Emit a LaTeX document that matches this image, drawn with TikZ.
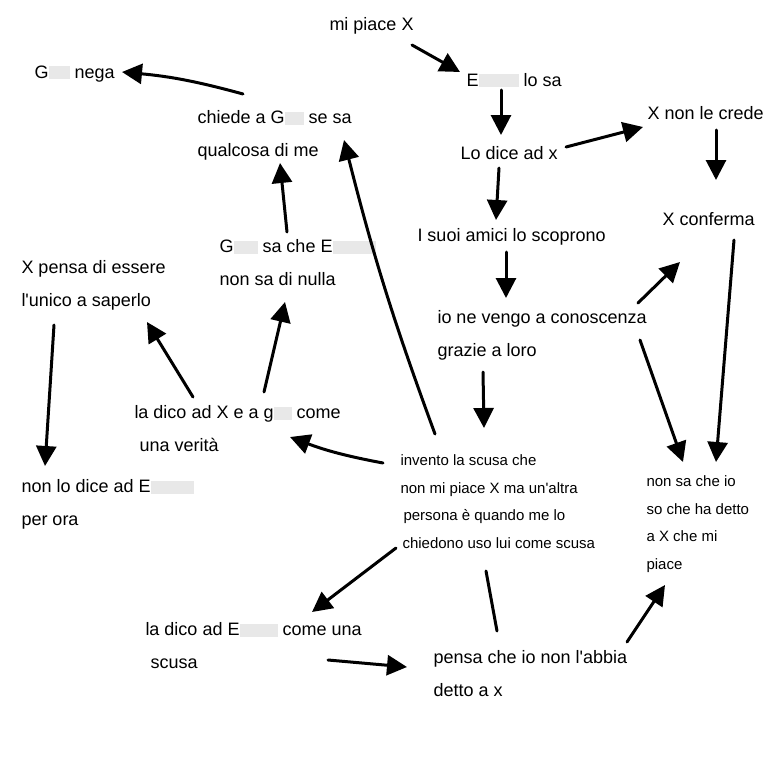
\documentclass[tikz,border=0pt]{standalone}
\usepackage{xcolor}
\usepackage{fontspec}
\setmainfont{Liberation Sans}
\usepackage{tikz}
\usetikzlibrary{arrows.meta, positioning}
\newcommand{\hid}[1]{\textcolor{black!9}{\rule[-1pt]{#1pt}{13pt}}}

\begin{document}
\begin{tikzpicture}[x=1pt, y=-1pt,
				>={Triangle[length=20pt, width=20pt]},
				line width=3pt,
				line cap=round,
				txt/.style={anchor=base west, inner sep=0pt, align=left, font=\fontsize{18}{32.5}\selectfont},
				small/.style={anchor=base west, inner sep=0pt, align=left, font=\fontsize{15}{27.5}\selectfont}]
				\useasboundingbox[fill=white] (0,0) rectangle (768,768);
				% base = last line
				\node at (328,31) (piace) [txt] {mi piace X};
				\node at (465,86) (elosa) [txt] {E\hid{40}\ lo sa};
				\node at (459,159) (dice) [txt] {Lo dice ad x};
				\node at (646,119) (crede) [txt] {X non le crede};
				\node at (661,225) (conferma) [txt] {X conferma};
				\node at (416,241) (amici) [txt] {I suoi amici lo scoprono};
				\node at (436,356) (vengo) [txt] {io ne vengo a conoscenza\\grazie a loro};
				\node at (33,78) (nega) [txt] {G\hid{21}\ nega};
				\node at (196,156) (chiede) [txt] {chiede a G\hid{19}\ se sa\\qualcosa di me};
				\node at (218,285) (gsa) [txt] {G\hid{24}\ sa che E\hid{43}\\non sa di nulla};
				\node at (20,306) (unico) [txt] {X pensa di essere\\l\textquotesingle unico a saperlo};
				\node at (133,451) (dicox) [txt] {la dico ad X e a g\hid{18}\ come\\\hspace{5pt}una verità};
				\node at (20,525) (nolodice) [txt] {non lo dice ad E\hid{43}\\per ora};
				\node at (399,548) (scusa) [small] {invento la scusa che\\non mi piace X ma un\textquotesingle altra\\\hspace{3pt}persona è quando me lo\\\hspace{2pt}chiedono uso lui come scusa};
				\node at (645,569) (nonsa) [small] {non sa che io\\so che ha detto\\a X che mi\\piace};
				\node at (144,668) (dicoe) [txt] {la dico ad E\hid{38}\ come una\\\hspace{5pt}scusa};
				\node at (432,696) (abbia) [txt] {pensa che io non l\textquotesingle abbia\\detto a x};
				% right branch
				\draw[->] ([shift={(84,14)}]piace.base west) -- ([shift={(-5,-14)}]elosa.base west);
				\draw[->] ([shift={(36,4)}]elosa.base west) -- ([shift={(42,-24)}]dice.base west);
				\draw[->] ([shift={(107,-12)}]dice.base west) -- ([shift={(-3,8)}]crede.base west);
				\draw[->] ([shift={(70,11)}]crede.base west) -- ([shift={(55,-45)}]conferma.base west);
				\draw[->] ([shift={(40,9)}]dice.base west) -- ([shift={(80,-21)}]amici.base west);
				\draw[->] ([shift={(90,11)}]amici.base west) -- ([shift={(70,-58)}]vengo.base west);
				\draw[->] ([shift={(202,-53)}]vengo.base west) -- ([shift={(19,37)}]conferma.base west);
				\draw[->] ([shift={(204,-16)}]vengo.base west) -- ([shift={(38,-107)}]nonsa.base west);
				\draw[->] ([shift={(73,15)}]conferma.base west) -- ([shift={(71,-107)}]nonsa.base west);
				\draw[->] ([shift={(47,16)}]vengo.base west) -- ([shift={(85,-120)}]scusa.base west);
				% left branch
				\draw[->] ([shift={(36,-114)}]scusa.base west) to[bend left=3] ([shift={(148,-16)}]chiede.base west);
				\draw[->] ([shift={(-16,-85)}]scusa.base west) to[bend left=5] ([shift={(157,-14)}]dicox.base west);
				\draw[->] ([shift={(60,-54)}]dicox.base west) -- ([shift={(127,16)}]unico.base west);
				\draw[->] ([shift={(131,-59)}]dicox.base west) -- ([shift={(67,17)}]gsa.base west);
				\draw[->] ([shift={(69,-53)}]gsa.base west) -- ([shift={(84,7)}]chiede.base west);
				\draw[->] ([shift={(47,-62)}]chiede.base west) to[bend right=5] ([shift={(89,-6)}]nega.base west);
				\draw[->] ([shift={(34,19)}]unico.base west) -- ([shift={(25,-59)}]nolodice.base west);
				% bottom
				\draw[->] ([shift={(-3,0)}]scusa.base west) -- ([shift={(168,-56)}]dicoe.base west);
				\draw[->] ([shift={(184,-8)}]dicoe.base west) -- ([shift={(-25,-29)}]abbia.base west);
				\draw ([shift={(87,23)}]scusa.base west) -- ([shift={(65,-65)}]abbia.base west);
				\draw[->] ([shift={(195,-54)}]abbia.base west) -- ([shift={(20,16)}]nonsa.base west);
			\end{tikzpicture}
\end{document}
